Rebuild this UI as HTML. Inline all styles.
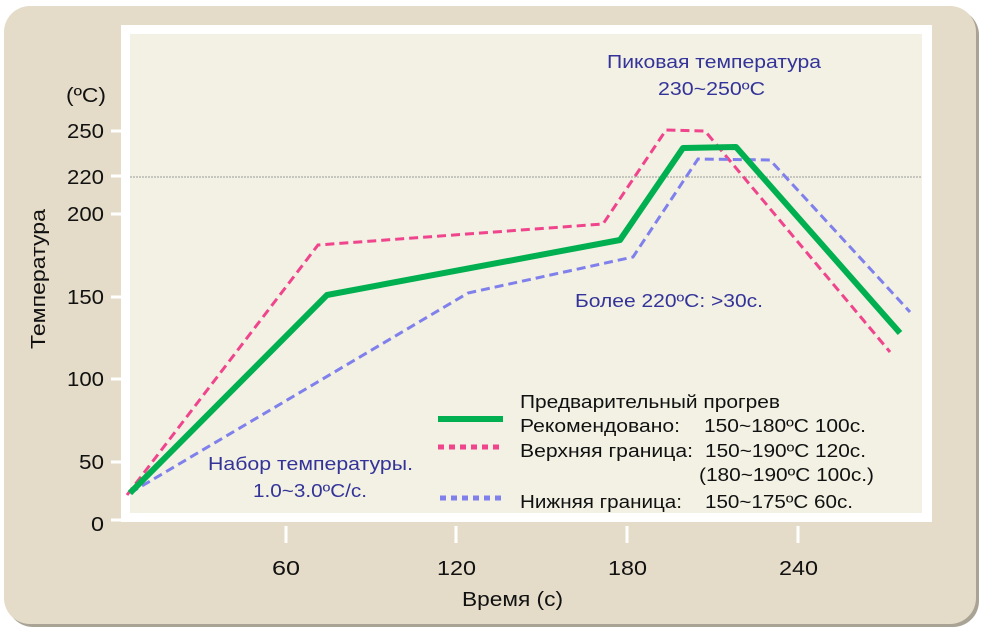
<!DOCTYPE html>
<html><head><meta charset="utf-8"><style>
html,body{margin:0;padding:0;background:#fff;width:992px;height:635px;overflow:hidden}
svg{display:block;font-family:"Liberation Sans",Arial,sans-serif}
</style></head><body>
<svg width="992" height="635" viewBox="0 0 992 635">
<rect x="7" y="9" width="972" height="618" rx="26" fill="#a8a394"/>
<rect x="4" y="6" width="972" height="618" rx="26" fill="#e4dcc8"/>
<rect x="121" y="25" width="811" height="497" fill="#fff"/>
<rect x="130" y="34" width="792" height="479" fill="#f2f1e4"/>
<line x1="130" y1="177" x2="922" y2="177" stroke="#999" stroke-width="1" stroke-dasharray="2,1"/>
<g stroke="#fff" stroke-width="3">
<line x1="111" y1="131" x2="121" y2="131"/><line x1="111" y1="176" x2="121" y2="176"/>
<line x1="111" y1="214" x2="121" y2="214"/><line x1="111" y1="297" x2="121" y2="297"/>
<line x1="111" y1="379" x2="121" y2="379"/><line x1="111" y1="462" x2="121" y2="462"/>
<line x1="111" y1="520" x2="121" y2="520"/>
<line x1="286" y1="526" x2="286" y2="543"/><line x1="456" y1="526" x2="456" y2="543"/>
<line x1="627" y1="526" x2="627" y2="543"/><line x1="798" y1="526" x2="798" y2="543"/>
</g>
<g font-size="20" fill="#111" text-anchor="end" lengthAdjust="spacingAndGlyphs">
<text x="106" y="102" textLength="40" lengthAdjust="spacingAndGlyphs">(ºC)</text>
<text x="104" y="138" textLength="37" lengthAdjust="spacingAndGlyphs">250</text>
<text x="104" y="184" textLength="37" lengthAdjust="spacingAndGlyphs">220</text>
<text x="104" y="221" textLength="37" lengthAdjust="spacingAndGlyphs">200</text>
<text x="104" y="304" textLength="37" lengthAdjust="spacingAndGlyphs">150</text>
<text x="104" y="386" textLength="37" lengthAdjust="spacingAndGlyphs">100</text>
<text x="104" y="469" textLength="25" lengthAdjust="spacingAndGlyphs">50</text>
<text x="104" y="531" textLength="13" lengthAdjust="spacingAndGlyphs">0</text>
</g>
<g font-size="20" fill="#111">
<text x="272" y="575" textLength="28" lengthAdjust="spacingAndGlyphs">60</text>
<text x="437" y="575" textLength="39" lengthAdjust="spacingAndGlyphs">120</text>
<text x="608" y="575" textLength="39" lengthAdjust="spacingAndGlyphs">180</text>
<text x="779" y="575" textLength="39" lengthAdjust="spacingAndGlyphs">240</text>
<text x="462" y="606" textLength="101" lengthAdjust="spacingAndGlyphs">Время (с)</text>
<text transform="translate(45,349) rotate(-90)" textLength="140" lengthAdjust="spacingAndGlyphs">Температура</text>
</g>
<polyline points="127,495 318,245 603,224 666,130 705,131 890,352" fill="none" stroke="#f0448c" stroke-width="3" stroke-dasharray="9,5"/>
<polyline points="130,493 468,293 633,257 698,159 770,160 910,312" fill="none" stroke="#8080ec" stroke-width="3" stroke-dasharray="9,5"/>
<polyline points="130,493 327,295 620,240 683,148 736,147 900,333" fill="none" stroke="#00b050" stroke-width="6" stroke-linejoin="round"/>
<g font-size="18" fill="#333399">
<text x="607" y="68" textLength="214" lengthAdjust="spacingAndGlyphs">Пиковая температура</text>
<text x="658" y="95" textLength="107" lengthAdjust="spacingAndGlyphs">230~250ºC</text>
<text x="575" y="307" textLength="188" lengthAdjust="spacingAndGlyphs">Более 220ºC: &gt;30с.</text>
<text x="208" y="470" textLength="205" lengthAdjust="spacingAndGlyphs">Набор температуры.</text>
<text x="253" y="497" textLength="114" lengthAdjust="spacingAndGlyphs">1.0~3.0ºC/с.</text>
</g>
<line x1="438" y1="419" x2="503" y2="419" stroke="#00b050" stroke-width="6"/>
<line x1="438" y1="447" x2="503" y2="447" stroke="#f0448c" stroke-width="5" stroke-dasharray="6,5"/>
<line x1="440" y1="498" x2="503" y2="498" stroke="#8080ec" stroke-width="5" stroke-dasharray="6,5"/>
<g font-size="18" fill="#111">
<text x="520" y="408" textLength="260" lengthAdjust="spacingAndGlyphs">Предварительный прогрев</text>
<text x="520" y="432" textLength="160" lengthAdjust="spacingAndGlyphs">Рекомендовано:</text>
<text x="704" y="432" textLength="162" lengthAdjust="spacingAndGlyphs">150~180ºC 100с.</text>
<text x="520" y="457" textLength="173" lengthAdjust="spacingAndGlyphs">Верхняя граница:</text>
<text x="705" y="457" textLength="161" lengthAdjust="spacingAndGlyphs">150~190ºC 120с.</text>
<text x="699" y="481" textLength="175" lengthAdjust="spacingAndGlyphs">(180~190ºC 100с.)</text>
<text x="520" y="508" textLength="162" lengthAdjust="spacingAndGlyphs">Нижняя граница:</text>
<text x="705" y="508" textLength="148" lengthAdjust="spacingAndGlyphs">150~175ºC 60с.</text>
</g>
</svg>
</body></html>
